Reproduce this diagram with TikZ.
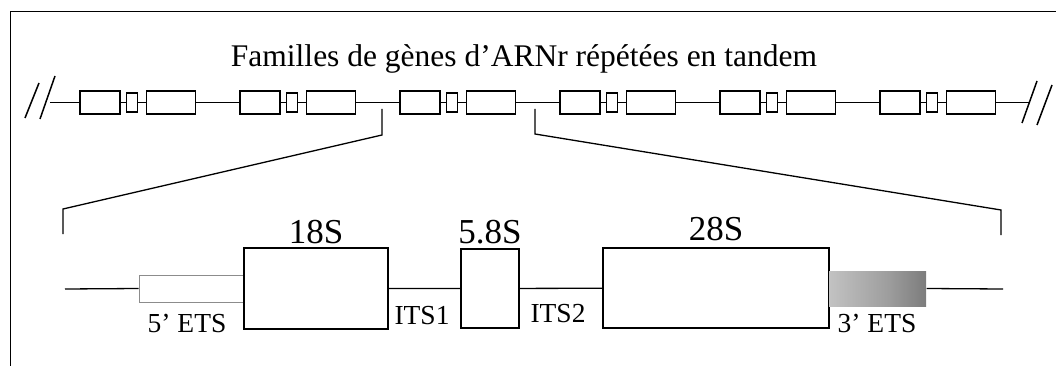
\documentclass[tikz,border=0pt]{standalone}
\usepackage{fontspec}
\setmainfont{Liberation Serif}
\pgfdeclarehorizontalshading{etsshade}{100bp}{color(0bp)=(black!12); color(55bp)=(black!38); color(88bp)=(black!60); color(100bp)=(black!95)}
\tikzset{
	gene/.style={draw, line width=1.6pt, fill=white, inner sep=0pt},
	title/.style={font=\fontsize{31.5}{34}\selectfont},
	rnalabel/.style={font=\fontsize{35}{38}\selectfont, anchor=base, inner sep=0pt},
	spacer/.style={font=\fontsize{27.5}{30}\selectfont, anchor=base, inner sep=0pt}
}
\begin{document}
\begin{tikzpicture}[x=1pt,y=-1pt,line width=1.3pt]
	\useasboundingbox (0,0) rectangle (1056,366);
	\draw[line width=1pt] (10,366) -- (10,12) -- (1056,12);
	\node[title, anchor=base] (titre) at (524,67) {Familles de gènes d’ARNr répétées en tandem};
	% repeated units
	\foreach \i in {0,...,5} {
		\pgfmathsetmacro{\xo}{80+160*\i}
		\node[gene, minimum width=40pt, minimum height=23pt] (a\i) at (\xo+20,102.5) {};
		\node[gene, minimum width=11pt, minimum height=19pt] (b\i) at (\xo+52,102.5) {};
		\node[gene, minimum width=49pt, minimum height=23pt] (c\i) at (\xo+91,102.5) {};
		\draw (a\i) -- (b\i) -- (c\i);
	}
	\foreach \i in {0,...,4} {
		\pgfmathtruncatemacro{\j}{\i+1}
		\draw (c\i) -- (a\j);
	}
	\coordinate (gauche) at (50,102.5);
	\coordinate (droite) at (1030,102.5);
	\draw (gauche) -- (a0);
	\draw (c5) -- (droite);
	\draw[line width=1.5pt] (25,118) -- (39,83);
	\draw[line width=1.5pt] (40,119) -- (55,76);
	\draw[line width=1.5pt] (1022,123) -- (1037,81);
	\draw[line width=1.5pt] (1037,125) -- (1052,85);
	% zoom
	\draw (382,109) -- (382,135) -- (63,209) -- (63,234);
	\draw (535,109) -- (535,134) -- (1001,210) -- (1001,235);
	% one unit
	\coordinate (debut) at (65,289);
	\coordinate (fin) at (1003,289);
	\node[draw=black!45, line width=0.8pt, fill=white, inner sep=0pt, minimum width=105pt, minimum height=27pt] (ets5) at (191.5,288.5) {};
	\node[gene, minimum width=144pt, minimum height=81pt] (s18) at (316,288.5) {};
	\node[gene, minimum width=58pt, minimum height=79pt] (s58) at (490,288.5) {};
	\node[gene, minimum width=226pt, minimum height=80pt] (s28) at (716,288) {};
	\node[shading=etsshade, inner sep=0pt, minimum width=97pt, minimum height=35pt] (ets3) at (877.5,288.5) {};
	\draw (debut) -- (ets5.west);
	\draw (s18) -- (s58) -- (s28);
	\draw (ets3.east) -- (fin);
	\node[rnalabel] (l18) at (316,243) {18S};
	\node[rnalabel] (l58) at (490,243) {5.8S};
	\node[rnalabel] (l28) at (716,240) {28S};
	\node[spacer] (l5ets) at (187,332) {5’ ETS};
	\node[spacer] (lits1) at (422,324) {ITS1};
	\node[spacer] (lits2) at (558,322) {ITS2};
	\node[spacer] (l3ets) at (877,332) {3’ ETS};
\end{tikzpicture}
\end{document}
